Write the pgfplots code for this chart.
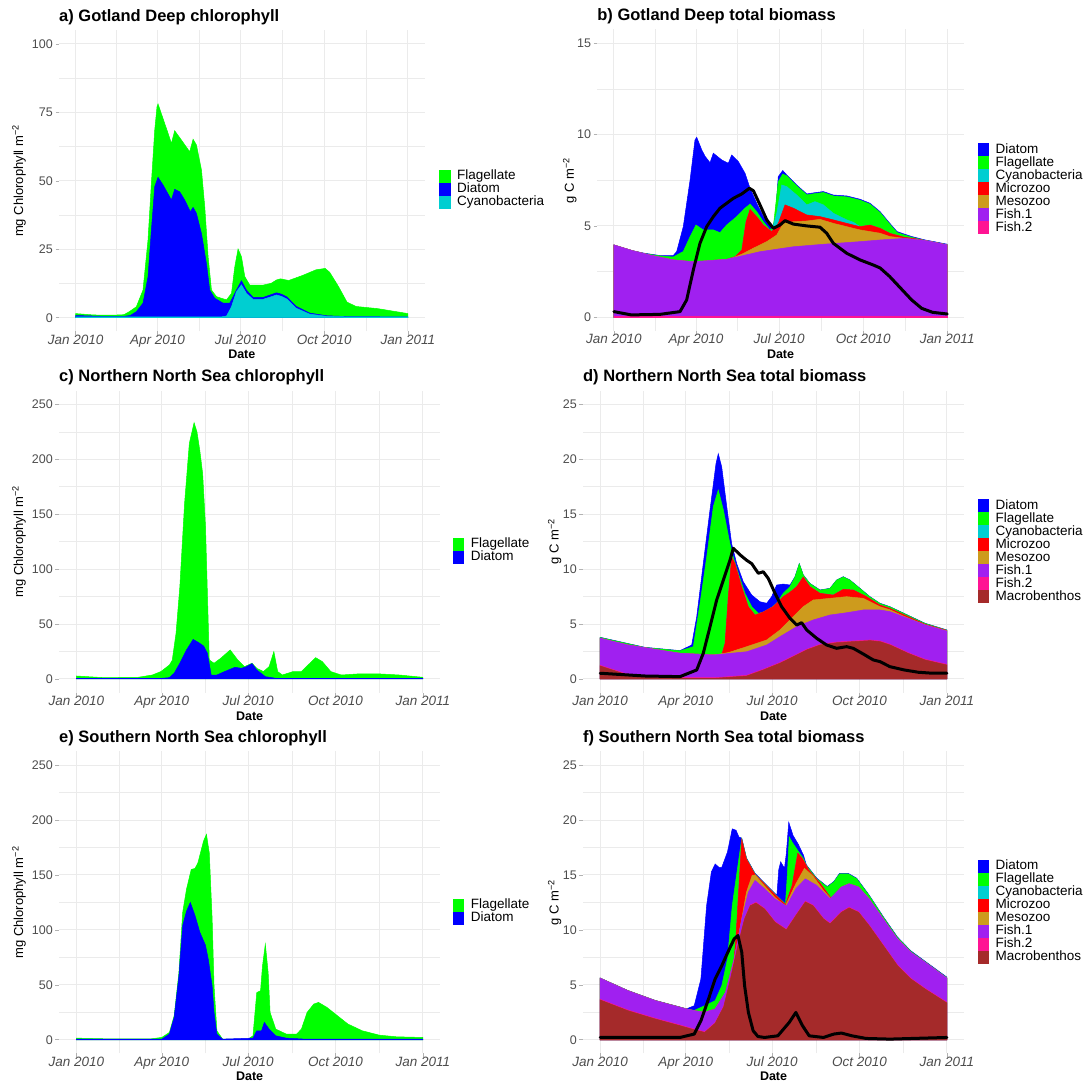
\documentclass[border=0pt]{standalone}
\usepackage{pgfplots}
\pgfplotsset{compat=1.18}
\usepackage{fontspec}
\setmainfont{Liberation Sans}
\definecolor{cDia}{RGB}{0,0,255}
\definecolor{cFla}{RGB}{0,255,0}
\definecolor{cCya}{RGB}{0,206,209}
\definecolor{cMic}{RGB}{255,0,0}
\definecolor{cMes}{RGB}{205,155,29}
\definecolor{cFa}{RGB}{160,32,240}
\definecolor{cFb}{RGB}{255,20,147}
\definecolor{cMac}{RGB}{165,42,42}
\definecolor{gridc}{RGB}{235,235,235}
\definecolor{tickc}{RGB}{77,77,77}
\pgfplotsset{
 common/.style={
  scale only axis,
  xmin=-18.25, xmax=383.25,
  xtick={0,90,181,273,365},
  xticklabels={Jan 2010,Apr 2010,Jul 2010,Oct 2010,Jan 2011},
  minor xtick={45,135.5,227,319},
  xmajorgrids, ymajorgrids, xminorgrids, yminorgrids,
  major grid style={draw=gridc, line width=1pt},
  minor grid style={draw=gridc, line width=0.5pt},
  axis line style={draw=none},
  tick align=outside,
  xtick pos=left, ytick pos=left,
  major tick length=3.5pt, minor tick length=0pt,
  tick style={draw=gray!60, line width=0.6pt},
  /pgf/number format/assume math mode=true,
  yticklabel style={font=\fontsize{12.5}{12.5}\selectfont, text=tickc, anchor=east, inner sep=0pt, xshift=-2.5pt},
  xticklabel style={font=\fontsize{13.5}{13.5}\selectfont\itshape, text=tickc, anchor=base, inner sep=0pt, yshift=-9.5pt},
  xlabel={Date},
  xlabel style={at={(axis description cs:0.5,0)}, anchor=base, yshift=-27.5pt, font=\bfseries\fontsize{12.5}{12.5}\selectfont, inner sep=0pt},
  ylabel style={anchor=center, font=\fontsize{13}{13}\selectfont},
  title style={at={(axis description cs:0,1)}, anchor=base west, yshift=2.7pt, font=\bfseries\fontsize{16.5}{16.5}\selectfont, inner sep=0pt},
  legend style={anchor=north west, draw=none, fill=none, inner sep=0pt, outer sep=0pt, row sep=0pt, font=\fontsize{13.5}{13.5}\selectfont, nodes={inner sep=0pt, text height=9.75pt, text depth=3.25pt}, /tikz/every odd column/.append style={column sep=6.5pt}},
  legend cell align=left,
  legend image code/.code={\fill[#1, draw=none] (0pt,-6.5pt) rectangle (11.5pt,6.5pt);},
  every axis plot/.append style={line width=0.5pt},
 },
 blk/.style={black, line width=3pt, line join=round, line cap=round, forget plot},
}
\begin{document}
\begin{tikzpicture}
\path[use as bounding box] (0,0) rectangle (1089pt,1083pt);

% ---------------- a ----------------
\begin{axis}[common, at={(59pt,751.6pt)}, anchor=south west, width=365.6pt, height=301.1pt,
  ymin=-5, ymax=105, ytick={0,25,50,75,100}, minor ytick={12.5,37.5,62.5,87.5},
  title={a) Gotland Deep chlorophyll},
  ylabel={mg Chlorophyll m\textsuperscript{−2}}, ylabel style={at={(axis description cs:-0.1094,0.5)}},
  legend style={at={(1.0394,0.536)}}]
\addplot[fill=cFla, draw=cFla] coordinates {(0,1.5) (20,1.0) (40,0.9) (53,1.1) (59,2.2) (66.7,4) (74,10.1) (79.5,28.4) (83.2,49.1) (86.9,68.6) (89.4,77.1) (90.5,78.1) (97.8,71) (105.2,63.7) (108.8,68.3) (116.2,64.9) (125.3,60.6) (129,65.2) (132.7,63.1) (138.2,54) (141.8,40.6) (145.5,22.3) (149.2,10.1) (154.7,7.7) (165.7,6.5) (171.2,8.9) (174.8,18.6) (178.4,25.1) (182.1,22.3) (185.8,15) (191.3,11.9) (205.9,11.9) (215,12.6) (220.6,13.8) (225,14.2) (234,13.6) (249,15.4) (264,17.5) (274,18) (279,16.6) (289,11.2) (298,5.7) (308,4.1) (332,3.3) (365,1.5)} \closedcycle;
\addlegendentry{Flagellate}
\addplot[fill=cDia, draw=cDia] coordinates {(0,0.8) (30,0.5) (53,0.5) (60,0.8) (66.7,2.2) (74,5.3) (79.5,15) (83.2,32) (86.9,47.9) (90.5,51.3) (96,48.5) (105.2,43) (108.8,46.9) (114.3,46) (119.8,43) (126,38.7) (129,40.3) (132.7,38.1) (138.2,30.8) (143.6,19.9) (147.3,10.1) (152.8,7.1) (162,5.3) (169.3,5.3) (176.6,10.1) (182.1,13.5) (187.6,10.1) (194.9,7.4) (205.9,7.4) (220.6,9.1) (226,8.6) (232,7.6) (242,4.2) (257,1.7) (276,0.7) (300,0.4) (365,0.3)} \closedcycle;
\addlegendentry{Diatom}
\addplot[fill=cCya, draw=cCya] coordinates {(0,0.3) (160,0.3) (165.7,0.6) (171.2,4) (176.6,9.5) (182.1,12) (187.6,8.9) (194.9,6.7) (205.9,6.7) (220.6,8.3) (226,7.8) (232,6.8) (242,3.5) (257,1.3) (276,0.5) (300,0.3) (365,0.3)} \closedcycle;
\addlegendentry{Cyanobacteria}
\end{axis}

% ---------------- b ----------------
\begin{axis}[common, at={(597.2pt,752pt)}, anchor=south west, width=366.7pt, height=301.5pt,
  ymin=-0.75, ymax=15.75, ytick={0,5,10,15}, minor ytick={2.5,7.5,12.5},
  title={b) Gotland Deep total biomass},
  ylabel={g C m\textsuperscript{−2}}, ylabel style={at={(axis description cs:-0.0747,0.5)}},
  legend style={at={(1.0376,0.6226)}}]
\addplot[fill=cDia, draw=cDia] coordinates {(0,3.96) (20,3.65) (34,3.5) (50.5,3.38) (65,3.38) (68.8,3.6) (76,4.96) (83.4,7.5) (88.8,9.7) (90.7,9.85) (96.2,9.16) (100,8.8) (105.3,8.46) (108.9,8.98) (118.1,8.61) (125.3,8.43) (129,8.88) (136.3,8.52) (143.6,7.88) (149.1,7.06) (156.4,6.24) (163.6,5.51) (172.8,4.87) (176.5,5.33) (180,7.7) (184.9,8.03) (189.3,7.79) (200.2,7.24) (211.2,6.75) (220.3,6.82) (229.4,6.88) (240.3,6.69) (255,6.64) (269.5,6.46) (280.5,6.24) (291.5,5.78) (302,5.15) (310,4.69) (326,4.42) (341,4.23) (365,4.0)} \closedcycle;
\addlegendentry{Diatom}
\addplot[fill=cFla, draw=cFla] coordinates {(0,3.94) (20,3.63) (34,3.48) (50.5,3.36) (65,3.3) (76,3.6) (83.4,4.41) (89.9,5.05) (97.9,4.78) (108.9,4.78) (116.2,4.63) (123.5,5.05) (134.5,5.51) (143.6,5.97) (149.1,6.2) (156.4,5.78) (163.6,5.23) (171,4.78) (174.6,4.96) (180,7.42) (184.9,7.84) (189.3,7.74) (200.2,7.19) (211.2,6.7) (220.3,6.77) (229.4,6.83) (240.3,6.64) (255,6.59) (269.5,6.41) (280.5,6.19) (291.5,5.73) (302,5.1) (310,4.64) (326,4.38) (341,4.2) (365,3.97)} \closedcycle;
\addlegendentry{Flagellate}
\addplot[fill=cCya, draw=cCya] coordinates {(0,3.96) (20,3.65) (40,3.4) (65,3.14) (87,3.04) (123.5,3.17) (132.6,3.32) (140,3.68) (144.7,5.23) (149.1,5.91) (156.4,5.51) (163.6,5.05) (172.8,4.69) (178.3,5.69) (183.8,7.24) (189.3,7.15) (200.2,6.69) (211.2,6.15) (220.3,6.33) (229.4,6.15) (240.3,5.69) (255,5.33) (262.2,5.2) (269.5,4.96) (280.5,5.05) (291.5,4.87) (302,4.6) (318,4.38) (330,4.3) (341,4.2) (365,3.96)} \closedcycle;
\addlegendentry{Cyanobacteria}
\addplot[fill=cMic, draw=cMic] coordinates {(0,3.96) (20,3.65) (40,3.4) (65,3.14) (87,3.04) (123.5,3.17) (132.6,3.32) (140,3.68) (144.7,5.23) (149.1,5.91) (156.4,5.51) (163.6,5.05) (172.8,4.69) (180,5.14) (187.4,6.15) (196.5,5.97) (211.2,5.6) (225.7,5.51) (240.3,5.33) (255,5.14) (269.5,4.96) (280.5,5.05) (291.5,4.87) (302,4.6) (318,4.38) (330,4.3) (341,4.2) (365,3.96)} \closedcycle;
\addlegendentry{Microzoo}
\addplot[fill=cMes, draw=cMes] coordinates {(0,3.96) (20,3.65) (40,3.4) (65,3.14) (87,3.04) (123.5,3.17) (130,3.25) (140,3.45) (152.7,3.78) (167.4,4.14) (178.3,4.5) (185.5,5.14) (196.5,5.23) (211.2,5.27) (225.7,5.36) (240.3,5.14) (269.5,4.78) (291.5,4.6) (302,4.42) (318,4.32) (341,4.2) (365,3.96)} \closedcycle;
\addlegendentry{Mesozoo}
\addplot[fill=cFa, draw=cFa] coordinates {(0,3.96) (20,3.65) (40,3.4) (65,3.14) (87,3.04) (123.5,3.17) (160,3.59) (196.5,3.86) (233,4.01) (269.5,4.14) (291.5,4.23) (318,4.32) (341,4.2) (365,3.96)} \closedcycle;
\addlegendentry{Fish.1}
\addplot[fill=cFb, draw=cFb] coordinates {(0,0.06) (365,0.06)} \closedcycle;
\addlegendentry{Fish.2}
\addplot[blk] coordinates {(0,0.31) (19,0.13) (50.5,0.16) (72.4,0.31) (79.7,0.95) (87,2.59) (94.3,4.05) (101.6,4.96) (108.9,5.51) (116.2,5.97) (123.5,6.24) (130.8,6.51) (140,6.75) (148.3,7.06) (152.7,6.93) (160,6.15) (167.4,5.33) (174.6,4.87) (181.9,5.05) (187.4,5.29) (196.5,5.1) (211.2,5.0) (225.7,4.93) (233,4.6) (240.3,4.05) (255,3.5) (269.5,3.14) (284.1,2.86) (291.5,2.7) (302,2.23) (314,1.59) (326,0.95) (337,0.49) (349,0.27) (365,0.18)};
\end{axis}

% ---------------- c ----------------
\begin{axis}[common, at={(59pt,390.3pt)}, anchor=south west, width=381.3pt, height=302.1pt,
  ymin=-12.5, ymax=262.5, ytick={0,50,100,150,200,250}, minor ytick={25,75,125,175,225},
  title={c) Northern North Sea chlorophyll},
  ylabel={mg Chlorophyll m\textsuperscript{−2}}, ylabel style={at={(axis description cs:-0.1049,0.5)}},
  legend style={at={(1.0328,0.512)}}]
\addplot[fill=cFla, draw=cFla] coordinates {(0,2.7) (29,1.2) (65,1.5) (80,3.6) (89,6.7) (98,12.7) (101,17) (105,41.6) (109,84) (114,160) (119,214.5) (124,233.3) (127,225) (130,208) (133,187) (136,139) (138,78) (140,17.3) (145,14.3) (152,18.8) (162,26.4) (170,17.3) (177,11.2) (185,14.3) (190,9.7) (197,6.7) (203,11.2) (208,24.9) (212,6.7) (217,3.6) (228,6.7) (237,6.7) (244,12.7) (252,19.4) (259,15.8) (268,6.7) (279,3.6) (297,4.6) (319,4.6) (340,3.6) (365,1.5)} \closedcycle;
\addlegendentry{Flagellate}
\addplot[fill=cDia, draw=cDia] coordinates {(0,0.6) (90,0.6) (98,1.2) (103,5.2) (109,14.3) (116,26.4) (123,36) (129,33) (134,30) (138,23.4) (142,3.6) (148,3.6) (156,6.7) (167,10.6) (174,9.7) (179,11.2) (185,14) (190,8.2) (199,2.1) (210,0.6) (365,0.6)} \closedcycle;
\addlegendentry{Diatom}
\end{axis}

% ---------------- d ----------------
\begin{axis}[common, at={(582.9pt,390.3pt)}, anchor=south west, width=381.3pt, height=302.1pt,
  ymin=-1.25, ymax=26.25, ytick={0,5,10,15,20,25}, minor ytick={2.5,7.5,12.5,17.5,22.5},
  title={d) Northern North Sea total biomass},
  ylabel={g C m\textsuperscript{−2}}, ylabel style={at={(axis description cs:-0.074,0.5)}},
  legend style={at={(1.0354,0.640)}}]
\addplot[fill=cDia, draw=cDia] coordinates {(0,3.79) (47,2.88) (84,2.58) (96.3,3.09) (101.6,5.67) (108.5,10.5) (115.6,15.4) (121.9,19.6) (124.3,20.5) (127.9,19.3) (133.2,15.7) (138.4,12.3) (143.7,10.5) (150.6,8.85) (159.5,7.64) (168.2,7.03) (175.3,6.89) (180.5,7.49) (185.8,8.55) (192.7,8.64) (199.8,8.55) (205.1,9.31) (209.6,10.5) (213.8,9.47) (220.8,8.7) (231.4,8.1) (241.9,8.25) (248.9,9.01) (255.9,9.31) (262.9,9.01) (273.5,8.25) (284,7.49) (294.5,6.89) (305,6.58) (342,5.07) (365,4.46)} \closedcycle;
\addlegendentry{Diatom}
\addplot[fill=cFla, draw=cFla] coordinates {(0,3.77) (47,2.86) (84,2.56) (98,2.94) (105.1,6.89) (112.1,11.1) (119.1,15.7) (124.3,17.2) (129.6,15.4) (136.6,12.3) (140.1,11.1) (145.4,9.62) (152.4,7.8) (159.5,6.58) (166.4,5.98) (175.3,6.12) (185.8,6.89) (192.7,7.8) (199.8,8.4) (205.1,9.29) (209.6,10.48) (213.8,9.45) (220.8,8.68) (231.4,8.08) (241.9,8.23) (248.9,8.99) (255.9,9.29) (262.9,8.99) (273.5,8.23) (284,7.47) (294.5,6.87) (305,6.56) (342,5.05) (365,4.44)} \closedcycle;
\addlegendentry{Flagellate}
\addplot[fill=cCya, draw=cCya] coordinates {(0,3.7) (29,3.1) (66,2.58) (84,2.34) (119.1,2.18) (128,2.22) (131.4,3.25) (134.8,7.49) (138.4,11.1) (141.9,10.5) (148.9,8.4) (155.9,6.58) (163,5.82) (171.7,6.1) (182.2,6.6) (192.7,7.5) (199.8,7.9) (206.8,8.4) (213.8,9.29) (220.8,8.4) (231.4,7.8) (245.4,7.64) (255.9,8.16) (266.4,8.1) (280.5,7.49) (294.5,6.73) (305,6.43) (342,4.98) (365,4.42)} \closedcycle;
\addlegendentry{Cyanobacteria}
\addplot[fill=cMic, draw=cMic] coordinates {(0,3.7) (29,3.1) (66,2.58) (84,2.34) (119.1,2.18) (128,2.22) (131.4,3.25) (134.8,7.49) (138.4,11.1) (141.9,10.5) (148.9,8.4) (155.9,6.58) (163,5.82) (171.7,6.1) (182.2,6.6) (192.7,7.5) (199.8,7.9) (206.8,8.4) (213.8,9.29) (220.8,8.4) (231.4,7.8) (245.4,7.64) (255.9,8.16) (266.4,8.1) (280.5,7.49) (294.5,6.73) (305,6.43) (342,4.98) (365,4.42)} \closedcycle;
\addlegendentry{Microzoo}
\addplot[fill=cMes, draw=cMes] coordinates {(0,3.7) (29,3.1) (66,2.58) (84,2.34) (119.1,2.18) (135,2.4) (154.2,2.94) (175.3,3.55) (189.3,4.46) (199.8,5.37) (213.8,6.58) (224.3,7.19) (241.9,7.34) (259.5,7.49) (277,7.34) (294.5,6.58) (305,6.3) (320,5.7) (342,4.92) (365,4.38)} \closedcycle;
\addlegendentry{Mesozoo}
\addplot[fill=cFa, draw=cFa] coordinates {(0,3.7) (29,3.1) (66,2.58) (84,2.34) (119.1,2.18) (154.2,2.48) (175.3,3.09) (189.3,3.85) (206.8,4.76) (224.3,5.37) (241.9,5.82) (259.5,6.03) (277,6.28) (294.5,6.28) (305,6.13) (324,5.52) (342,4.92) (365,4.36)} \closedcycle;
\addlegendentry{Fish.1}
\addplot[fill=cFb, draw=cFb] coordinates {(0,1.24) (29,0.42) (66,0.12) (121,0.12) (154.2,0.33) (171.7,0.88) (189.3,1.49) (203.3,2.09) (217.4,2.7) (231.4,3.15) (248.9,3.36) (266.4,3.46) (284,3.55) (294.5,3.46) (305,3.16) (324,2.4) (342,1.79) (365,1.33)} \closedcycle;
\addlegendentry{Fish.2}
\addplot[fill=cMac, draw=cMac] coordinates {(0,1.18) (29,0.36) (66,0.06) (121,0.06) (154.2,0.27) (171.7,0.82) (189.3,1.43) (203.3,2.03) (217.4,2.64) (231.4,3.09) (248.9,3.3) (266.4,3.4) (284,3.49) (294.5,3.4) (305,3.1) (324,2.34) (342,1.73) (365,1.27)} \closedcycle;
\addlegendentry{Macrobenthos}
\addplot[blk] coordinates {(0,0.52) (47,0.27) (84,0.21) (101.6,0.82) (108.5,2.34) (115.6,4.76) (122.6,7.19) (129.6,9.0) (136.6,10.8) (140.1,11.9) (147.2,11.3) (154.2,10.8) (159.5,10.5) (166.4,9.62) (171.7,9.76) (176.9,9.16) (184,7.8) (191,6.58) (199.8,5.52) (206.8,4.91) (212.1,5.12) (217.4,4.46) (227.9,3.7) (238.4,3.09) (248.9,2.79) (259.5,2.94) (266.4,2.79) (277,2.27) (287.5,1.73) (294.5,1.58) (305,1.12) (320,0.82) (335,0.61) (350,0.52) (365,0.52)};
\end{axis}

% ---------------- e ----------------
\begin{axis}[common, at={(59pt,29.5pt)}, anchor=south west, width=381.3pt, height=302.1pt,
  ymin=-12.5, ymax=262.5, ytick={0,50,100,150,200,250}, minor ytick={25,75,125,175,225},
  title={e) Southern North Sea chlorophyll},
  ylabel={mg Chlorophyll m\textsuperscript{−2}}, ylabel style={at={(axis description cs:-0.1049,0.5)}},
  legend style={at={(1.0328,0.512)}}]
\addplot[fill=cFla, draw=cFla] coordinates {(0,1.5) (29,0.9) (79,0.9) (90,2.1) (98,6.7) (103,21.8) (108,61) (112,116) (116,137) (121,155) (125,156) (128,161) (134,181) (137,187) (140,170) (143,110) (145,49) (148,8.2) (154,0.6) (181,0.6) (186,3.6) (190,43) (194,44.6) (196,67) (199,87) (202,61) (204,24.9) (210,9.7) (221,5.2) (232,5.2) (237,9.7) (243,24.9) (250,32.5) (255,34) (264,29.4) (275,21.8) (286,14.3) (301,8.2) (319,4.2) (337,2.7) (365,2.1)} \closedcycle;
\addlegendentry{Flagellate}
\addplot[fill=cDia, draw=cDia] coordinates {(0,0.6) (90,0.6) (98,5.2) (103,20.3) (108,58) (112,104) (116,117) (120,125) (125,113) (130,98) (136,86) (139,73) (143,49) (145,24.9) (148,5.2) (154,0.6) (186,1.5) (190,8.2) (195,8.2) (198,15.8) (203,9.7) (210,3.6) (221,1.5) (240,0.6) (365,0.6)} \closedcycle;
\addlegendentry{Diatom}
\end{axis}

% ---------------- f ----------------
\begin{axis}[common, at={(582.9pt,29.5pt)}, anchor=south west, width=381.3pt, height=302.1pt,
  ymin=-1.25, ymax=26.25, ytick={0,5,10,15,20,25}, minor ytick={2.5,7.5,12.5,17.5,22.5},
  title={f) Southern North Sea total biomass},
  ylabel={g C m\textsuperscript{−2}}, ylabel style={at={(axis description cs:-0.074,0.5)}},
  legend style={at={(1.0354,0.642)}}]
\addplot[fill=cDia, draw=cDia] coordinates {(0,5.62) (29,4.49) (58,3.58) (91,2.82) (99,3.1) (106,5.54) (112,12.2) (117,15.27) (121,16.0) (125,15.7) (128,15.7) (134,17.1) (139,19.2) (143,19.07) (146,18.46) (149,18.35) (154,16.55) (163,15.15) (175,14.1) (186,13.15) (188,15.5) (190,16.2) (194,15.6) (196,17) (198.5,19.8) (203,18.6) (208.5,17.8) (214,16.8) (217,15.93) (228,14.71) (239,13.95) (246,14.41) (252,15.15) (261,15.15) (270,14.71) (283,13.19) (298,11.21) (313,9.35) (327,8.1) (342,7.15) (365,5.7)} \closedcycle;
\addlegendentry{Diatom}
\addplot[fill=cFla, draw=cFla] coordinates {(0,5.61) (29,4.48) (58,3.57) (91,2.81) (99,2.67) (110,3.1) (121,3.56) (128,4.93) (134,7.36) (139,12.2) (145,15.88) (149,18.3) (154,16.5) (163,15.1) (175,14.05) (186,13.1) (195,12.38) (197,15) (199,18.46) (202,18.0) (209,17.1) (214,16.5) (217,15.88) (228,14.66) (239,13.9) (246,14.36) (252,15.1) (261,15.1) (270,14.66) (283,13.14) (298,11.16) (313,9.3) (327,8.05) (342,7.1) (365,5.65)} \closedcycle;
\addlegendentry{Flagellate}
\addplot[fill=cCya, draw=cCya] coordinates {(0,5.6) (29,4.47) (58,3.56) (91,2.8) (99,2.65) (110,2.5) (121,2.8) (132,4.32) (141,7.36) (143,9.5) (146,14) (149,18.25) (154,16.45) (163,15.05) (175,14.0) (186,13.05) (195,12.3) (202,14.05) (208,17.0) (213,16.48) (220,15.4) (232,14.2) (243,12.9) (254,13.9) (262,14.2) (272,13.9) (283,12.83) (298,11.0) (313,9.18) (327,7.97) (342,7.06) (365,5.6)} \closedcycle;
\addlegendentry{Cyanobacteria}
\addplot[fill=cMic, draw=cMic] coordinates {(0,5.6) (29,4.47) (58,3.56) (91,2.8) (99,2.65) (110,2.5) (121,2.8) (132,4.32) (141,7.36) (143,9.5) (146,14) (149,18.25) (154,16.45) (163,15.05) (175,14.0) (186,13.05) (195,12.3) (202,14.05) (208,17.0) (213,16.48) (220,15.4) (232,14.2) (243,12.9) (254,13.9) (262,14.2) (272,13.9) (283,12.83) (298,11.0) (313,9.18) (327,7.97) (342,7.06) (365,5.6)} \closedcycle;
\addlegendentry{Microzoo}
\addplot[fill=cMes, draw=cMes] coordinates {(0,5.6) (29,4.47) (58,3.56) (91,2.8) (99,2.65) (110,2.5) (121,2.8) (132,4.32) (141,7.36) (149,11.0) (154,13.44) (160,14.96) (163,15.0) (173,14.0) (184,12.95) (195,12.2) (206,14.2) (215,15.6) (224,14.9) (235,13.6) (243,12.83) (254,13.9) (262,14.2) (272,13.9) (283,12.83) (298,11.0) (313,9.18) (327,7.97) (342,7.06) (365,5.6)} \closedcycle;
\addlegendentry{Mesozoo}
\addplot[fill=cFa, draw=cFa] coordinates {(0,5.6) (29,4.47) (58,3.56) (91,2.8) (99,2.65) (110,2.5) (121,2.8) (132,4.32) (141,7.36) (149,11.0) (156,13.44) (163,14.5) (173,13.75) (184,12.83) (196,12.17) (206,13.75) (216,14.65) (228,14.05) (242,12.83) (254,13.9) (262,14.2) (272,13.9) (283,12.83) (298,11.0) (313,9.18) (327,7.97) (342,7.06) (365,5.6)} \closedcycle;
\addlegendentry{Fish.1}
\addplot[fill=cFb, draw=cFb] coordinates {(0,3.68) (29,2.71) (58,1.95) (84,1.34) (99,0.97) (110,0.73) (121,1.56) (130,3.06) (137,5.56) (145,8.66) (152,11.06) (158,12.26) (164,12.51) (173,11.96) (184,10.76) (196,10.06) (206,11.36) (216,12.61) (224,12.26) (235,11.06) (242,10.61) (254,11.66) (262,12.06) (272,11.66) (283,10.46) (298,8.64) (313,6.81) (327,5.6) (342,4.68) (365,3.41)} \closedcycle;
\addlegendentry{Fish.2}
\addplot[fill=cMac, draw=cMac] coordinates {(0,3.62) (29,2.65) (58,1.89) (84,1.28) (99,0.91) (110,0.67) (121,1.5) (130,3.0) (137,5.5) (145,8.6) (152,11.0) (158,12.2) (164,12.45) (173,11.9) (184,10.7) (196,10.0) (206,11.3) (216,12.55) (224,12.2) (235,11.0) (242,10.55) (254,11.6) (262,12.0) (272,11.6) (283,10.4) (298,8.58) (313,6.75) (327,5.54) (342,4.62) (365,3.35)} \closedcycle;
\addlegendentry{Macrobenthos}
\addplot[blk] coordinates {(0,0.21) (84,0.21) (99,0.52) (106,1.73) (114,3.71) (121,5.54) (128,6.75) (136,8.27) (141,9.18) (145,9.49) (149,7.97) (152,4.93) (156,2.49) (161,0.82) (166,0.3) (173,0.21) (187,0.36) (199,1.58) (206,2.49) (213,1.28) (220,0.36) (235,0.21) (246,0.52) (254,0.61) (265,0.36) (280,0.12) (305,0.06) (365,0.21)};
\end{axis}
\end{tikzpicture}
\end{document}
